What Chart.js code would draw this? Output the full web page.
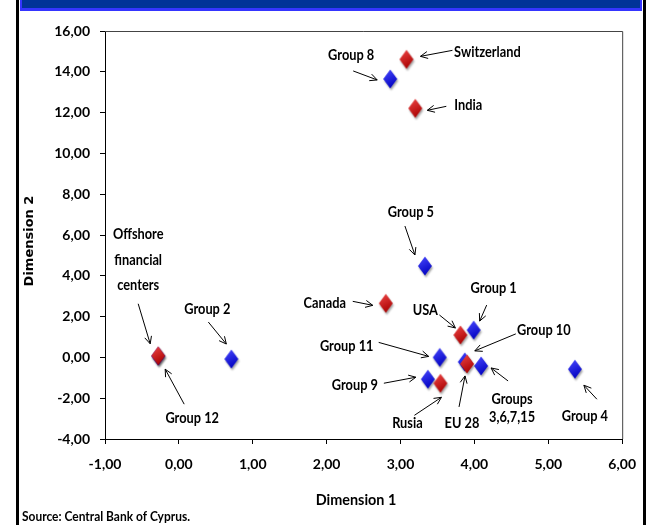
<!DOCTYPE html>
<html lang="en">
<head>
<meta charset="UTF-8">
<title>Dimension 1 vs Dimension 2</title>
<script src="https://cdn.jsdelivr.net/npm/chart.js"></script>
<style>
    body { margin: 0; background: #fff; }
    #wrap { width: 648px; height: 525px; }
</style>
</head>
<body>
<div id="wrap"><canvas id="chart" width="648" height="525"></canvas></div>
<script>
// red markers (countries / regions)
const redNames = ['Switzerland', 'India', 'Canada', 'USA', 'EU 28', 'Rusia', 'Offshore\nfinancial\ncenters'];
const redX = [3.08, 3.20, 2.80, 3.81, 3.90, 3.54, -0.28];
const redY = [14.61, 12.21, 2.65, 1.10, -0.32, -1.27, 0.08];

// blue markers (groups)
const blueNames = ['Group 8', 'Group 5', 'Group 1', 'Group 10', 'Group 11', 'Group 9', 'Groups\n3,6,7,15', 'Group 4', 'Group 2', 'Group 12'];
const blueX = [2.86, 3.33, 3.99, 3.87, 3.53, 3.37, 4.09, 5.36, 0.71, -0.28];
const blueY = [13.65, 4.48, 1.34, -0.22, 0.00, -1.07, -0.42, -0.58, -0.08, 0.06];

const xTicks = [-1, 0, 1, 2, 3, 4, 5, 6];
const yTicks = [-4, -2, 0, 2, 4, 6, 8, 10, 12, 14, 16];

// label placement relative to its marker, in px: [label dx, dy, arrow from dx, dy, arrow to dx, dy]
const labelPos = {
    'Switzerland': [81, -8, 46, -9, 14, -3],
    'India': [53, -3, 31, -2, 12, 2],
    'Canada': [-61, 0, -33, -2, -13, 2],
    'USA': [-35, -25, -21, -20, -5, -7],
    'EU 28': [-5, 59, -8, 43, -2, 12],
    'Rusia': [-33, 40, -26, 32, 1, 14],
    'Offshore\nfinancial\ncenters': [-20, -96, -20, -52, -8, -12],
    'Group 8': [-39, -24, -37, -8, -13, 1],
    'Group 5': [-14, -54, -20, -40, -10, -11],
    'Group 1': [20, -42, 13, -25, 6, -9],
    'Group 10': [79, -32, 51, -28, 10, -11],
    'Group 11': [-93, -12, -61, -15, -11, -1],
    'Group 9': [-73, 6, -44, 4, -12, -2],
    'Groups\n3,6,7,15': [31, 42, 27, 15, 10, 2],
    'Group 4': [10, 47, 22, 30, 9, 16],
    'Group 2': [-24, -50, -23, -37, -5, -15],
    'Group 12': [34, 62, 26, 48, 7, 13]
};

const FONT = "Lato, 'DejaVu Sans Condensed', sans-serif";

function diamond(light, dark) {
    const c = document.createElement('canvas');
    c.width = 20; c.height = 26;
    const g = c.getContext('2d');
    g.shadowColor = 'rgba(0,0,0,0.35)';
    g.shadowBlur = 2;
    g.shadowOffsetX = 1;
    g.shadowOffsetY = 2;
    const grd = g.createLinearGradient(4, 3, 14, 21);
    grd.addColorStop(0, light);
    grd.addColorStop(1, dark);
    g.fillStyle = grd;
    g.beginPath();
    g.moveTo(10, 3.5);
    g.lineTo(17, 13);
    g.lineTo(10, 22.5);
    g.lineTo(3, 13);
    g.closePath();
    g.fill();
    return c;
}

const redPoints = redX.map((x, i) => ({x: x, y: redY[i], name: redNames[i]}));
const bluePoints = blueX.map((x, i) => ({x: x, y: blueY[i], name: blueNames[i]}));

function fmt(v) {
    return v.toFixed(2).replace('.', ',');
}

// narrow text: draw squeezed horizontally to mimic a condensed face
function narrowText(ctx, t, x, y, sx) {
    ctx.save();
    ctx.translate(x, y);
    ctx.scale(sx, 1);
    ctx.fillText(t, 0, 0);
    ctx.restore();
}

const framePlugin = {
    id: 'frame',
    beforeDraw(chart) {
        const ctx = chart.ctx;
        ctx.save();
        ctx.fillStyle = '#fff';
        ctx.fillRect(0, 0, 648, 525);
        ctx.fillStyle = '#000';
        ctx.fillRect(16, 0, 3, 525);
        ctx.fillRect(643, 0, 3, 525);
        ctx.fillStyle = '#3535ff';
        ctx.fillRect(20, 0, 622, 11);
        ctx.fillStyle = '#003399';
        ctx.fillRect(22, 0, 618, 8);
        ctx.restore();
    },
    afterDraw(chart) {
        const ctx = chart.ctx;
        const a = chart.chartArea;
        const xs = chart.scales.x, ys = chart.scales.y;
        ctx.save();
        // top and right edges of the plot box
        ctx.strokeStyle = '#444';
        ctx.lineWidth = 1;
        ctx.beginPath();
        ctx.moveTo(a.left, a.top + 0.5);
        ctx.lineTo(a.right + 0.5, a.top + 0.5);
        ctx.lineTo(a.right + 0.5, a.bottom);
        ctx.stroke();

        // labels and arrows
        ctx.font = 'bold 16px ' + FONT;
        ctx.textAlign = 'center';
        ctx.textBaseline = 'middle';
        ctx.fillStyle = '#000';
        ctx.strokeStyle = '#000';
        const all = redPoints.concat(bluePoints);
        all.forEach(p => {
            const lp = labelPos[p.name];
            if (!lp) return;
            const px = xs.getPixelForValue(p.x), py = ys.getPixelForValue(p.y);
            const lines = p.name.split('\n');
            const lh = lines.length === 3 ? 25.5 : 18;
            lines.forEach((t, k) => {
                narrowText(ctx, t, px + lp[0], py + lp[1] + (k - (lines.length - 1) / 2) * lh, 0.8);
            });
            const x1 = px + lp[2], y1 = py + lp[3], x2 = px + lp[4], y2 = py + lp[5];
            const ang = Math.atan2(y2 - y1, x2 - x1);
            ctx.beginPath();
            ctx.moveTo(x1, y1);
            ctx.lineTo(x2, y2);
            ctx.moveTo(x2 - 8 * Math.cos(ang - 0.45), y2 - 8 * Math.sin(ang - 0.45));
            ctx.lineTo(x2, y2);
            ctx.lineTo(x2 - 8 * Math.cos(ang + 0.45), y2 - 8 * Math.sin(ang + 0.45));
            ctx.stroke();
        });

        // axis titles and source
        ctx.font = 'bold 16px ' + FONT;
        narrowText(ctx, 'Dimension 1', 356, 500, 0.9);
        ctx.save();
        ctx.translate(30, 241);
        ctx.rotate(-Math.PI / 2);
        ctx.font = "bold 13px 'DejaVu Sans', sans-serif";
        ctx.fillText('Dimension 2', 0, 0);
        ctx.restore();
        ctx.textAlign = 'left';
        ctx.font = 'bold 13px ' + FONT;
        narrowText(ctx, 'Source: Central Bank of Cyprus.', 22, 517, 0.92);
        ctx.restore();
    }
};

new Chart(document.getElementById('chart'), {
    type: 'scatter',
    data: {
        datasets: [
            {
                label: 'Countries',
                data: redPoints,
                pointStyle: diamond('#f04848', '#a80000'),
                pointRadius: 10,
                pointHoverRadius: 10
            },
            {
                label: 'Groups',
                data: bluePoints,
                pointStyle: diamond('#4a4aff', '#0000c0'),
                pointRadius: 10,
                pointHoverRadius: 10
            }
        ]
    },
    options: {
        responsive: false,
        animation: false,
        devicePixelRatio: 1,
        layout: {padding: {left: 20, right: 23, top: 31, bottom: 0}},
        plugins: {legend: {display: false}, tooltip: {enabled: false}},
        scales: {
            x: {
                type: 'linear',
                min: -1, max: 6,
                afterFit: s => { s.height = 86; },
                afterBuildTicks: s => { s.ticks = xTicks.map(v => ({value: v})); },
                grid: {drawOnChartArea: false, tickLength: 5, color: '#000'},
                border: {color: '#000'},
                ticks: {
                    color: '#000',
                    padding: 12,
                    font: {family: FONT, size: 14, weight: 'bold'},
                    callback: v => fmt(v)
                }
            },
            y: {
                type: 'linear',
                min: -4, max: 16,
                afterFit: s => { s.width = 85; },
                afterBuildTicks: s => { s.ticks = yTicks.map(v => ({value: v})); },
                grid: {drawOnChartArea: false, tickLength: 5, color: '#000'},
                border: {color: '#000'},
                ticks: {
                    color: '#000',
                    padding: 10,
                    font: {family: FONT, size: 14, weight: 'bold'},
                    callback: v => fmt(v)
                }
            }
        }
    },
    plugins: [framePlugin]
});
</script>
</body>
</html>
